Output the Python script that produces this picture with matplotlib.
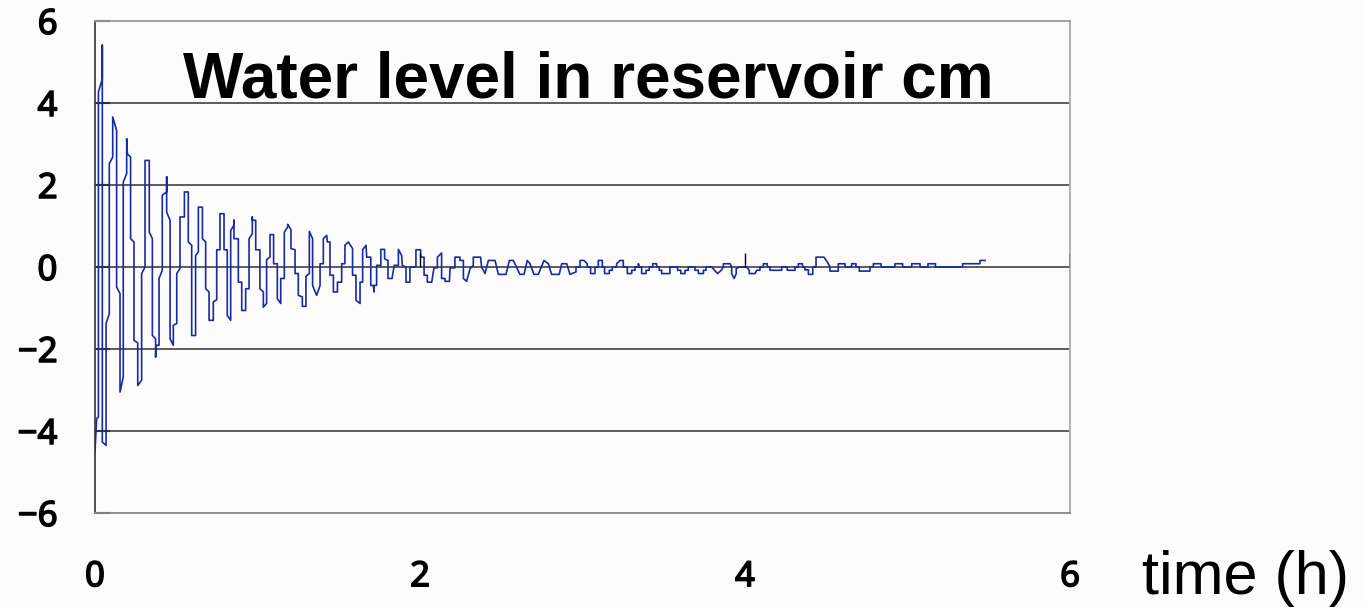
import matplotlib
matplotlib.use("Agg")
import matplotlib.pyplot as plt
import matplotlib.patheffects as pe

# ---- data (time in hours, level in cm) ----
time_h = [
    0.000, 0.010, 0.021, 0.021, 0.045, 0.045, 0.045, 0.068, 0.068, 0.088, 0.088, 0.109, 0.109,
    0.133, 0.133, 0.154, 0.154, 0.174, 0.174, 0.195, 0.195, 0.199, 0.219, 0.219, 0.240, 0.240,
    0.263, 0.263, 0.287, 0.287, 0.308, 0.308, 0.334, 0.334, 0.353, 0.353, 0.373, 0.373, 0.376,
    0.394, 0.394, 0.414, 0.414, 0.441, 0.441, 0.441, 0.462, 0.462, 0.482, 0.482, 0.503, 0.503,
    0.523, 0.523, 0.550, 0.550, 0.574, 0.574, 0.595, 0.595, 0.619, 0.619, 0.636, 0.636, 0.661,
    0.661, 0.681, 0.681, 0.702, 0.702, 0.728, 0.728, 0.749, 0.749, 0.769, 0.769, 0.794, 0.794,
    0.814, 0.814, 0.835, 0.835, 0.855, 0.855, 0.855, 0.882, 0.882, 0.903, 0.903, 0.927, 0.927,
    0.948, 0.948, 0.968, 0.968, 0.968, 0.989, 0.989, 1.015, 1.015, 1.036, 1.036, 1.056, 1.056,
    1.077, 1.077, 1.099, 1.099, 1.122, 1.122, 1.143, 1.143, 1.165, 1.165, 1.186, 1.186, 1.206,
    1.206, 1.231, 1.231, 1.251, 1.251, 1.276, 1.276, 1.298, 1.298, 1.319, 1.319, 1.339, 1.339,
    1.364, 1.385, 1.385, 1.405, 1.405, 1.426, 1.430, 1.446, 1.446, 1.467, 1.467, 1.492, 1.492,
    1.518, 1.518, 1.538, 1.538, 1.559, 1.585, 1.585, 1.606, 1.606, 1.631, 1.631, 1.647, 1.647,
    1.668, 1.672, 1.697, 1.697, 1.713, 1.717, 1.717, 1.733, 1.733, 1.759, 1.759, 1.782, 1.782,
    1.803, 1.803, 1.828, 1.841, 1.867, 1.867, 1.887, 1.891, 1.914, 1.914, 1.938, 1.938, 1.975,
    1.975, 2.004, 2.004, 2.025, 2.025, 2.045, 2.045, 2.072, 2.086, 2.107, 2.107, 2.133, 2.133,
    2.154, 2.154, 2.181, 2.185, 2.215, 2.215, 2.246, 2.246, 2.267, 2.267, 2.287, 2.308, 2.328,
    2.328, 2.373, 2.379, 2.400, 2.421, 2.462, 2.482, 2.529, 2.550, 2.574, 2.615, 2.640, 2.660,
    2.677, 2.701, 2.728, 2.763, 2.790, 2.810, 2.857, 2.872, 2.903, 2.923, 2.960, 2.960, 2.985,
    2.985, 3.009, 3.029, 3.029, 3.050, 3.050, 3.077, 3.077, 3.097, 3.097, 3.122, 3.122, 3.136,
    3.136, 3.165, 3.165, 3.183, 3.183, 3.210, 3.210, 3.231, 3.251, 3.251, 3.276, 3.276, 3.303,
    3.303, 3.323, 3.323, 3.344, 3.344, 3.348, 3.364, 3.364, 3.391, 3.391, 3.411, 3.411, 3.432,
    3.432, 3.456, 3.456, 3.472, 3.472, 3.487, 3.487, 3.538, 3.538, 3.585, 3.585, 3.605, 3.605,
    3.631, 3.631, 3.651, 3.651, 3.692, 3.692, 3.713, 3.713, 3.744, 3.744, 3.760, 3.760, 3.795,
    3.831, 3.854, 3.867, 3.867, 3.908, 3.918, 3.918, 3.933, 3.946, 3.946, 3.965, 4.010, 4.026,
    4.026, 4.062, 4.072, 4.092, 4.092, 4.113, 4.113, 4.137, 4.137, 4.154, 4.154, 4.226, 4.226,
    4.260, 4.260, 4.308, 4.308, 4.328, 4.328, 4.353, 4.355, 4.369, 4.369, 4.390, 4.390, 4.417,
    4.417, 4.437, 4.437, 4.486, 4.507, 4.523, 4.523, 4.574, 4.574, 4.615, 4.615, 4.656, 4.656,
    4.683, 4.683, 4.703, 4.703, 4.769, 4.769, 4.790, 4.790, 4.837, 4.837, 4.923, 4.923, 4.970,
    4.970, 5.026, 5.026, 5.077, 5.077, 5.126, 5.126, 5.172, 5.172, 5.339, 5.339, 5.446, 5.446,
    5.477,
]
level_cm = [
    -4.51, -3.70, -3.66, 4.27, 4.59, 5.41, -4.27, -4.35, -1.38, -1.14, 2.52, 2.68, 3.66,
    3.33, -0.49, -0.65, -3.05, -2.68, 2.07, 2.28, 3.13, 2.76, 2.68, 0.69, 0.61, -1.79,
    -1.85, -2.89, -2.76, -0.16, 0.00, 2.60, 2.60, 0.85, 0.69, -1.67, -1.75, -2.20, -1.91,
    -1.91, -0.28, -0.08, 1.75, 1.83, 2.20, 1.34, 1.14, -1.75, -1.91, -1.42, -1.38, -0.16,
    -0.04, 1.22, 1.22, 1.83, 1.83, 0.61, 0.53, -1.67, -1.67, 0.28, 0.37, 1.46, 1.46,
    0.69, 0.61, -0.53, -0.61, -1.30, -1.30, -0.85, -0.80, 0.42, 0.42, 1.30, 1.30, 0.42,
    0.42, -1.18, -1.30, 0.89, 1.02, 1.14, 0.69, 0.69, -0.37, -0.37, -1.06, -1.06, -0.53,
    -0.53, 0.69, 0.81, 1.22, 1.14, 1.14, 0.42, 0.42, -0.53, -0.61, -0.98, -0.89, 0.18,
    0.24, 0.79, 0.79, 0.08, 0.08, -0.77, -0.89, -0.28, -0.28, 0.85, 0.98, 1.04, 0.91,
    0.45, 0.42, -0.16, -0.16, -0.69, -0.73, -0.96, -0.96, -0.23, -0.16, 0.87, 0.69, -0.45,
    -0.69, -0.45, 0.08, 0.08, 0.69, 0.77, 0.61, 0.61, -0.20, -0.20, -0.61, -0.61, -0.37,
    -0.37, 0.08, 0.08, 0.53, 0.61, 0.45, -0.20, -0.20, -0.81, -0.89, -0.37, -0.37, 0.42,
    0.53, 0.24, 0.24, -0.45, -0.45, -0.61, -0.45, -0.45, 0.04, 0.04, 0.43, 0.43, 0.20,
    0.16, -0.28, -0.28, 0.04, 0.04, 0.43, 0.28, 0.04, 0.00, -0.37, -0.37, 0.00, 0.00,
    0.42, 0.42, 0.24, 0.24, -0.20, -0.20, -0.37, -0.37, -0.02, -0.02, 0.24, 0.34, -0.28,
    -0.28, -0.35, -0.35, -0.02, -0.02, 0.24, 0.24, 0.16, 0.16, -0.28, -0.35, -0.04, 0.04,
    0.24, 0.24, 0.00, -0.16, 0.16, 0.16, -0.18, -0.18, 0.16, 0.16, -0.18, -0.18, 0.16,
    0.08, -0.18, -0.18, 0.16, 0.08, -0.18, -0.18, 0.08, 0.08, -0.18, -0.12, 0.00, 0.00,
    0.16, 0.16, 0.08, 0.00, 0.00, -0.16, -0.16, 0.00, 0.00, 0.16, 0.16, 0.00, 0.00,
    -0.16, -0.16, -0.08, -0.08, 0.00, 0.00, 0.08, 0.16, 0.16, 0.00, 0.00, -0.16, -0.16,
    -0.08, -0.08, 0.00, 0.00, 0.08, 0.00, 0.00, -0.16, -0.16, -0.08, -0.08, 0.00, 0.00,
    0.08, 0.08, 0.00, 0.00, -0.08, -0.08, -0.16, -0.16, 0.00, 0.00, -0.08, -0.08, -0.16,
    -0.16, -0.08, -0.08, 0.00, 0.00, -0.08, -0.08, -0.16, -0.16, -0.08, -0.08, 0.00, 0.00,
    -0.16, -0.08, 0.00, 0.08, 0.08, 0.00, -0.16, -0.28, -0.16, -0.04, 0.00, 0.00, -0.08,
    -0.16, -0.16, -0.08, -0.08, 0.00, 0.00, 0.08, 0.08, 0.00, 0.00, -0.08, -0.08, 0.00,
    0.00, -0.08, -0.08, 0.00, 0.00, 0.08, 0.08, 0.00, 0.00, -0.07, -0.07, -0.18, -0.18,
    0.00, 0.00, 0.24, 0.24, 0.12, 0.00, -0.10, -0.10, 0.08, 0.08, 0.00, 0.00, 0.08,
    0.08, 0.00, 0.00, -0.10, -0.10, 0.00, 0.00, 0.08, 0.08, 0.00, 0.00, 0.08, 0.08,
    0.00, 0.00, 0.08, 0.08, 0.00, 0.00, 0.08, 0.08, 0.00, 0.00, 0.08, 0.08, 0.16,
    0.16,
]

x_ticks = [0, 2, 4, 6]
x_tick_labels = ["0", "2", "4", "6"]
y_ticks = [-6, -4, -2, 0, 2, 4, 6]
y_tick_labels = ["\u22126", "\u22124", "\u22122", "0", "2", "4", "6"]
title_text = "Water level in reservoir cm"
xlabel_text = "time (h)"

W, H = 1365, 607
fig = plt.figure(figsize=(W / 100, H / 100), dpi=100, facecolor="#fcfcfc")
ax = fig.add_axes([95 / W, (H - 513) / H, 975 / W, 492 / H])
ax.set_facecolor("#fcfcfc")

ax.set_xlim(0, 6)
ax.set_ylim(-6, 6)

# grid lines
for yv in y_ticks[1:-1]:
    ax.axhline(yv, color="#505050", lw=1.3, zorder=1)

ax.plot(time_h, level_cm, color="#1a2aa0", lw=1.2, zorder=3)

# small x tick marks on the zero line
ax.vlines(x_ticks[1:], 0, 0.35, color="black", lw=1.0, zorder=4)

for side, col in (("left", "#444444"), ("bottom", "#888888"),
                  ("top", "#999999"), ("right", "#aaaaaa")):
    ax.spines[side].set_color(col)
    ax.spines[side].set_linewidth(1.3)

tick_font = ["Noto Sans", "Liberation Sans", "DejaVu Sans"]
bold_fx = [pe.withStroke(linewidth=1.1, foreground="black")]
ax.set_yticks(y_ticks)
ax.set_yticklabels(y_tick_labels, family=tick_font, fontsize=25)
ax.set_xticks(x_ticks)
ax.set_xticklabels(x_tick_labels, family=tick_font, fontsize=25)
for lab in ax.get_xticklabels() + ax.get_yticklabels():
    lab.set_path_effects(bold_fx)
ax.tick_params(axis="y", direction="in", length=11, width=1.5, color="#333333", pad=27)
ax.tick_params(axis="x", length=0, pad=34)

fig.text(588.5 / W, (H - 97) / H, title_text, ha="center", va="baseline",
         fontsize=46, fontweight="bold", family=["Liberation Sans", "DejaVu Sans"])
fig.text(1142 / W, (H - 594) / H, xlabel_text, ha="left", va="baseline",
         fontsize=44, family=["Liberation Sans", "DejaVu Sans"])

fig.savefig("out.png", dpi=100, facecolor=fig.get_facecolor())
